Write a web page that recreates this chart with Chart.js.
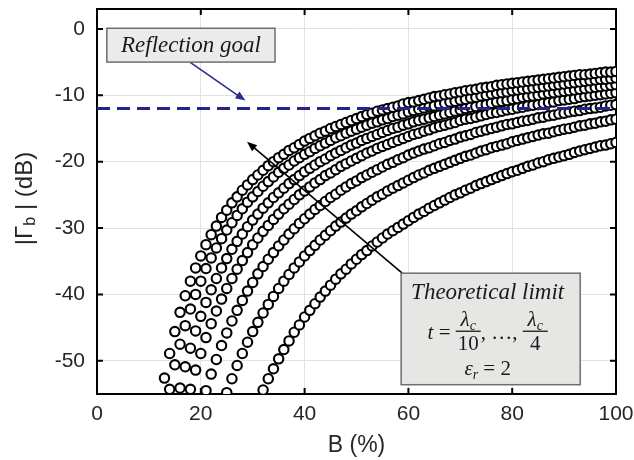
<!DOCTYPE html>
<html>
<head>
<meta charset="utf-8">
<script src="https://cdn.jsdelivr.net/npm/chart.js@4.4.1/dist/chart.umd.min.js"></script>
<style>
  html, body { margin: 0; padding: 0; background: #fff; }
  #box { width: 634px; height: 460px; }
</style>
</head>
<body>
<div id="box"><canvas id="myChart" width="634" height="460"></canvas></div>
<script>
// B (%) where each curve starts, 1 % steps up to 100
const curveStart = [13, 14, 16, 18, 21, 25, 32];

// |Gamma_b| (dB) for t = lambda_c/10 ... lambda_c/4
const tLambda10 = [
  -52.6,-48.9,-45.6,-42.7,-40.2,-38.0,-36.0,
  -34.2,-32.5,-31.0,-29.7,-28.4,-27.3,-26.2,-25.3,-24.3,-23.5,
  -22.7,-22.0,-21.3,-20.6,-20.0,-19.4,-18.9,-18.3,-17.9,-17.4,
  -16.9,-16.5,-16.1,-15.7,-15.4,-15.0,-14.7,-14.4,-14.1,-13.8,
  -13.5,-13.2,-12.9,-12.7,-12.4,-12.2,-12.0,-11.8,-11.6,-11.3,
  -11.1,-11.0,-10.8,-10.6,-10.4,-10.2,-10.1,-9.9,-9.8,-9.6,
  -9.5,-9.3,-9.2,-9.1,-8.9,-8.8,-8.7,-8.5,-8.4,-8.3,
  -8.2,-8.1,-8.0,-7.9,-7.8,-7.7,-7.6,-7.5,-7.4,-7.3,
  -7.2,-7.1,-7.0,-6.9,-6.9,-6.8,-6.7,-6.6,-6.5,-6.5,
  -6.4
];
const tLambda9 = [
  -54.3,-50.6,-47.5,-44.7,-42.2,-40.0,
  -38.0,-36.1,-34.5,-33.0,-31.6,-30.3,-29.2,-28.1,-27.1,-26.1,
  -25.3,-24.5,-23.7,-23.0,-22.3,-21.6,-21.0,-20.5,-19.9,-19.4,
  -18.9,-18.5,-18.0,-17.6,-17.2,-16.8,-16.4,-16.1,-15.7,-15.4,
  -15.1,-14.8,-14.5,-14.2,-14.0,-13.7,-13.5,-13.2,-13.0,-12.8,
  -12.5,-12.3,-12.1,-11.9,-11.7,-11.6,-11.4,-11.2,-11.0,-10.9,
  -10.7,-10.6,-10.4,-10.3,-10.1,-10.0,-9.8,-9.7,-9.6,-9.5,
  -9.3,-9.2,-9.1,-9.0,-8.9,-8.8,-8.7,-8.6,-8.5,-8.4,
  -8.3,-8.2,-8.1,-8.0,-7.9,-7.8,-7.7,-7.6,-7.6,-7.5,
  -7.4
];
const tLambda8 = [
  -54.1,-50.9,-48.1,-45.5,
  -43.3,-41.2,-39.3,-37.6,-36.0,-34.6,-33.2,-32.0,-30.9,-29.8,
  -28.8,-27.9,-27.0,-26.2,-25.4,-24.7,-24.0,-23.3,-22.7,-22.1,
  -21.5,-21.0,-20.5,-20.0,-19.6,-19.1,-18.7,-18.3,-17.9,-17.5,
  -17.2,-16.8,-16.5,-16.2,-15.9,-15.6,-15.3,-15.0,-14.8,-14.5,
  -14.3,-14.0,-13.8,-13.6,-13.4,-13.2,-13.0,-12.8,-12.6,-12.4,
  -12.2,-12.0,-11.8,-11.7,-11.5,-11.4,-11.2,-11.0,-10.9,-10.8,
  -10.6,-10.5,-10.3,-10.2,-10.1,-10.0,-9.8,-9.7,-9.6,-9.5,
  -9.4,-9.3,-9.2,-9.1,-9.0,-8.9,-8.8,-8.7,-8.6,-8.5,
  -8.4
];
const tLambda7 = [
  -54.3,-51.4,
  -48.9,-46.5,-44.4,-42.5,-40.7,-39.1,-37.6,-36.2,-34.9,-33.7,
  -32.5,-31.5,-30.5,-29.6,-28.7,-27.9,-27.1,-26.4,-25.7,-25.0,
  -24.4,-23.8,-23.2,-22.7,-22.1,-21.7,-21.2,-20.7,-20.3,-19.9,
  -19.5,-19.1,-18.7,-18.4,-18.0,-17.7,-17.4,-17.1,-16.8,-16.5,
  -16.2,-15.9,-15.7,-15.4,-15.2,-14.9,-14.7,-14.5,-14.3,-14.1,
  -13.8,-13.6,-13.5,-13.3,-13.1,-12.9,-12.7,-12.6,-12.4,-12.2,
  -12.1,-11.9,-11.8,-11.6,-11.5,-11.4,-11.2,-11.1,-11.0,-10.8,
  -10.7,-10.6,-10.5,-10.3,-10.2,-10.1,-10.0,-9.9,-9.8,-9.7,
  -9.6
];
const tLambda6 = [
  -54.5,-52.0,-49.8,-47.7,-45.8,-44.0,-42.4,-40.9,-39.5,
  -38.2,-36.9,-35.8,-34.7,-33.7,-32.7,-31.8,-30.9,-30.1,-29.3,
  -28.6,-27.9,-27.2,-26.6,-26.0,-25.4,-24.9,-24.3,-23.8,-23.3,
  -22.9,-22.4,-22.0,-21.6,-21.2,-20.8,-20.4,-20.1,-19.7,-19.4,
  -19.0,-18.7,-18.4,-18.1,-17.9,-17.6,-17.3,-17.1,-16.8,-16.6,
  -16.3,-16.1,-15.9,-15.6,-15.4,-15.2,-15.0,-14.8,-14.6,-14.4,
  -14.3,-14.1,-13.9,-13.8,-13.6,-13.4,-13.3,-13.1,-13.0,-12.8,
  -12.7,-12.5,-12.4,-12.3,-12.1,-12.0,-11.9,-11.8,-11.6,-11.5,
  -11.4
];
const tLambda5 = [
  -54.8,-52.7,-50.7,-48.9,-47.2,
  -45.6,-44.2,-42.8,-41.5,-40.3,-39.1,-38.0,-37.0,-36.0,-35.1,
  -34.2,-33.4,-32.6,-31.8,-31.1,-30.4,-29.7,-29.1,-28.5,-27.9,
  -27.4,-26.8,-26.3,-25.8,-25.3,-24.9,-24.4,-24.0,-23.6,-23.2,
  -22.8,-22.4,-22.0,-21.7,-21.3,-21.0,-20.7,-20.4,-20.1,-19.8,
  -19.5,-19.2,-19.0,-18.7,-18.4,-18.2,-17.9,-17.7,-17.5,-17.3,
  -17.0,-16.8,-16.6,-16.4,-16.2,-16.0,-15.8,-15.7,-15.5,-15.3,
  -15.1,-15.0,-14.8,-14.6,-14.5,-14.3,-14.2,-14.0,-13.9,-13.7,
  -13.6
];
const tLambda4 = [
  -54.4,-52.7,-51.2,-49.7,-48.3,-47.0,-45.7,-44.6,
  -43.4,-42.4,-41.4,-40.4,-39.5,-38.6,-37.7,-36.9,-36.2,-35.4,
  -34.7,-34.0,-33.4,-32.7,-32.1,-31.5,-30.9,-30.4,-29.9,-29.4,
  -28.9,-28.4,-27.9,-27.5,-27.0,-26.6,-26.2,-25.8,-25.4,-25.0,
  -24.7,-24.3,-24.0,-23.6,-23.3,-23.0,-22.7,-22.4,-22.1,-21.8,
  -21.5,-21.3,-21.0,-20.7,-20.5,-20.2,-20.0,-19.7,-19.5,-19.3,
  -19.1,-18.9,-18.6,-18.4,-18.2,-18.0,-17.8,-17.6,-17.5,-17.3,
  -17.1
];
const curveValues = [tLambda10, tLambda9, tLambda8, tLambda7, tLambda6, tLambda5, tLambda4];
const curveNames = ['t = λc/10', 't = λc/9', 't = λc/8', 't = λc/7', 't = λc/6', 't = λc/5', 't = λc/4'];

const goalLevel = -12;
const xTickValues = [0, 20, 40, 60, 80, 100];
const yTickValues = [-50, -40, -30, -20, -10, 0];

const sans = '"Liberation Sans", Arial, sans-serif';
const serif = '"Liberation Serif", "Times New Roman", serif';

const datasets = [{
  label: 'Reflection goal',
  data: [{x: 0, y: goalLevel}, {x: 100, y: goalLevel}],
  showLine: true,
  borderColor: '#24248a',
  borderWidth: 3,
  borderDash: [13, 7],
  pointRadius: 0,
  pointHoverRadius: 0
}];
curveValues.forEach((vals, k) => {
  datasets.push({
    label: curveNames[k],
    data: vals.map((v, i) => ({x: curveStart[k] + i, y: v})),
    showLine: false,
    pointRadius: 4.7,
    pointHoverRadius: 4.7,
    pointBorderWidth: 2.1,
    pointBorderColor: '#000',
    pointBackgroundColor: '#fff'
  });
});

function arrow(ctx, x1, y1, x2, y2, color) {
  const ang = Math.atan2(y2 - y1, x2 - x1);
  const hl = 10, hw = 4;
  ctx.save();
  ctx.strokeStyle = color;
  ctx.fillStyle = color;
  ctx.lineWidth = 1.6;
  ctx.beginPath();
  ctx.moveTo(x1, y1);
  ctx.lineTo(x2 - Math.cos(ang) * hl * 0.8, y2 - Math.sin(ang) * hl * 0.8);
  ctx.stroke();
  ctx.beginPath();
  ctx.moveTo(x2, y2);
  ctx.lineTo(x2 - Math.cos(ang) * hl - Math.sin(ang) * hw, y2 - Math.sin(ang) * hl + Math.cos(ang) * hw);
  ctx.lineTo(x2 - Math.cos(ang) * hl + Math.sin(ang) * hw, y2 - Math.sin(ang) * hl - Math.cos(ang) * hw);
  ctx.closePath();
  ctx.fill();
  ctx.restore();
}

// run of text pieces: [text, font, dy]
function runWidth(ctx, parts) {
  let w = 0;
  parts.forEach(p => { ctx.font = p[1]; w += ctx.measureText(p[0]).width; });
  return w;
}
function drawRun(ctx, parts, x, y) {
  parts.forEach(p => {
    ctx.font = p[1];
    ctx.fillText(p[0], x, y + (p[2] || 0));
    x += ctx.measureText(p[0]).width;
  });
  return x;
}

const framePlugin = {
  id: 'frame',
  beforeDatasetsDraw(chart) {
    const {ctx, chartArea: a, scales: {x, y}} = chart;
    ctx.save();
    ctx.strokeStyle = '#000';
    ctx.lineWidth = 2;
    ctx.beginPath();
    xTickValues.forEach(v => {
      const px = x.getPixelForValue(v);
      ctx.moveTo(px, a.bottom); ctx.lineTo(px, a.bottom - 6);
      ctx.moveTo(px, a.top); ctx.lineTo(px, a.top + 6);
    });
    yTickValues.forEach(v => {
      const py = y.getPixelForValue(v);
      ctx.moveTo(a.left, py); ctx.lineTo(a.left + 6, py);
      ctx.moveTo(a.right, py); ctx.lineTo(a.right - 6, py);
    });
    ctx.stroke();
    ctx.strokeRect(a.left, a.top, a.width, a.height);
    ctx.restore();
  },
  afterDraw(chart) {
    const {ctx, chartArea: a, scales: {x, y}} = chart;
    const X = v => x.getPixelForValue(v), Y = v => y.getPixelForValue(v);
    ctx.save();
    ctx.fillStyle = '#1a1a1a';

    // y axis title |Γb| (dB)
    ctx.save();
    ctx.translate(25, (a.top + a.bottom) / 2 - 3);
    ctx.rotate(-Math.PI / 2);
    ctx.textBaseline = 'middle';
    ctx.fillStyle = '#262626';
    const yt = [['|Γ', '24px ' + sans, 0], ['b', '16px ' + sans, 6], [' | (dB)', '24px ' + sans, 0]];
    drawRun(ctx, yt, -runWidth(ctx, yt) / 2, 0);
    ctx.restore();

    // reflection goal annotation
    arrow(ctx, X(17.9), Y(-5.0), X(28.6), Y(-10.8), '#2b2b90');
    let bx = X(1.9), by = Y(0.1), bw = X(34.3) - bx, bh = Y(-5.0) - by;
    ctx.fillStyle = '#ebebea';
    ctx.fillRect(bx, by, bw, bh);
    ctx.strokeStyle = '#6e6e6e';
    ctx.lineWidth = 1.5;
    ctx.strokeRect(bx, by, bw, bh);
    ctx.fillStyle = '#1a1a1a';
    ctx.textAlign = 'center';
    ctx.textBaseline = 'middle';
    ctx.font = 'italic 23px ' + serif;
    ctx.fillText('Reflection goal', bx + bw / 2, by + bh / 2 + 1);

    // theoretical limit annotation
    arrow(ctx, X(58.8), Y(-36.8), X(28.9), Y(-17.0), '#000');
    bx = X(58.6); by = Y(-36.8); bw = X(93.1) - bx; bh = Y(-53.6) - by;
    ctx.fillStyle = '#e6e6e4';
    ctx.fillRect(bx, by, bw, bh);
    ctx.strokeStyle = '#6e6e6e';
    ctx.strokeRect(bx, by, bw, bh);
    ctx.fillStyle = '#1a1a1a';
    const cx = bx + bw / 2 - 3;
    ctx.font = 'italic 23px ' + serif;
    ctx.fillText('Theoretical limit', cx, by + 20);

    ctx.textAlign = 'left';
    ctx.textBaseline = 'alphabetic';
    const it = 'italic 21px ' + serif, up = '21px ' + serif, sub = 'italic 14px ' + serif;
    const num = [['λ', it, 0], ['c', sub, 4]];
    const fw = Math.max(runWidth(ctx, num), runWidth(ctx, [['10', up]])) + 4;
    const lead = [['t', it], [' = ', up]];
    const mid = [[', …, ', up]];
    const total = runWidth(ctx, lead) + fw + runWidth(ctx, mid) + fw;
    const base = by + 66, bar = by + 58;
    let px = cx - total / 2;
    px = drawRun(ctx, lead, px, base);
    const frac = (den, x0) => {
      drawRun(ctx, num, x0 + (fw - runWidth(ctx, num)) / 2, bar - 5);
      ctx.font = up;
      ctx.fillText(den, x0 + (fw - ctx.measureText(den).width) / 2, bar + 19);
      ctx.fillRect(x0, bar - 0.6, fw, 1.3);
      return x0 + fw;
    };
    px = frac('10', px);
    px = drawRun(ctx, mid, px, base);
    frac('4', px);

    const eps = [['ε', it, 0], ['r', sub, 4], [' = 2', up, 0]];
    drawRun(ctx, eps, cx - runWidth(ctx, eps) / 2, by + 102);
    ctx.restore();
  }
};

const config = {
  type: 'scatter',
  data: { datasets },
  options: {
    responsive: false,
    animation: false,
    devicePixelRatio: 1,
    layout: { padding: { left: 0, right: 18, top: 9, bottom: 0 } },
    plugins: { legend: { display: false }, tooltip: { enabled: false } },
    scales: {
      x: {
        type: 'linear', min: 0, max: 100,
        afterBuildTicks: s => { s.ticks = xTickValues.map(v => ({value: v})); },
        afterFit: s => { s.height = 66; s.paddingLeft = 0; s.paddingRight = 0; },
        border: { display: false },
        grid: { color: '#e2e2e2', lineWidth: 1, drawTicks: false },
        ticks: { padding: 8, color: '#262626', font: { family: sans, size: 21 } },
        title: { display: true, text: 'B (%)', color: '#262626', font: { family: sans, size: 23 }, padding: { top: 0, bottom: 1 } }
      },
      y: {
        type: 'linear', min: -55, max: 3,
        afterBuildTicks: s => { s.ticks = yTickValues.map(v => ({value: v})); },
        afterFit: s => { s.width = 97; s.paddingTop = 0; s.paddingBottom = 0; },
        border: { display: false },
        grid: { color: '#e2e2e2', lineWidth: 1, drawTicks: false },
        ticks: { padding: 12, color: '#262626', font: { family: sans, size: 21 } }
      }
    }
  },
  plugins: [framePlugin]
};

const myChart = new Chart(document.getElementById('myChart'), config);
</script>
</body>
</html>
